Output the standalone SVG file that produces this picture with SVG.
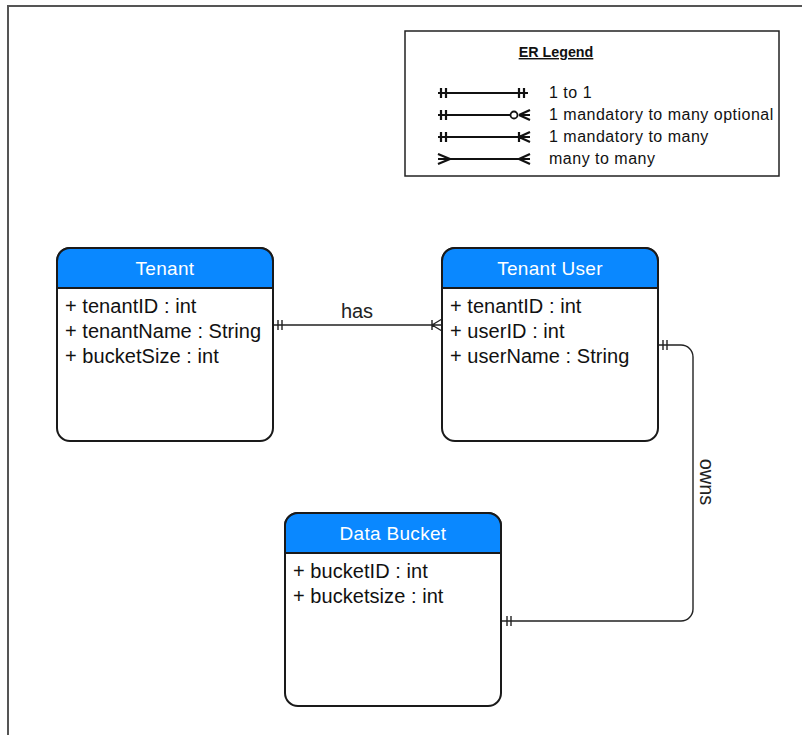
<svg xmlns="http://www.w3.org/2000/svg" width="802" height="735" viewBox="0 0 802 735">
<style>
.frame{fill:none;stroke:#555;stroke-width:2}
.box{fill:#fff;stroke:#1a1a1a;stroke-width:2}
.hdr{fill:#0a88ff;stroke:#1a1a1a;stroke-width:2}
.ht{font-family:"Liberation Sans",Arial,sans-serif;font-size:19px;fill:#fff;text-anchor:middle;letter-spacing:0.3px}
.at{font-family:"Liberation Sans",Arial,sans-serif;font-size:20px;fill:#111;letter-spacing:0.05px}
.conn{fill:none;stroke:#222;stroke-width:1.4}
.lbl{font-family:"Liberation Sans",Arial,sans-serif;font-size:20px;fill:#222}
.lg{fill:none;stroke:#111;stroke-width:2.2}
.lt{font-family:"Liberation Sans",Arial,sans-serif;font-size:16px;fill:#111;letter-spacing:0.5px}
</style>
<rect x="0" y="0" width="802" height="735" fill="#fff"/>
<path class="frame" d="M802,6 H8 V735"/>

<g id="legend">
<rect x="405" y="31" width="374" height="145" fill="#fff" stroke="#222" stroke-width="1.5"/>
<text x="556" y="57" font-family="Liberation Sans, Arial, sans-serif" font-size="14.3" font-weight="bold" text-anchor="middle" fill="#111" text-decoration="underline">ER Legend</text>
<g>
<path class="lg" d="M438,93 H528 M441,88 V98 M446,88 V98 M519,88 V98 M524,88 V98"/>
<text class="lt" x="549" y="98">1 to 1</text>
</g>
<g>
<path class="lg" d="M438,115 H510 M441,110 V120 M446,110 V120 M519,115 H530 M519,115 L530,110 M519,115 L530,120"/>
<circle cx="514" cy="115" r="3.5" fill="#fff" stroke="#111" stroke-width="1.8"/>
<text class="lt" x="549" y="120">1 mandatory to many optional</text>
</g>
<g>
<path class="lg" d="M438,137 H530 M441,132 V142 M446,132 V142 M519,132 V142 M519,137 L530,132 M519,137 L530,142"/>
<text class="lt" x="549" y="142">1 mandatory to many</text>
</g>
<g>
<path class="lg" d="M438,159 H530 M450,159 L438,154 M450,159 L438,164 M519,159 L530,154 M519,159 L530,164"/>
<text class="lt" x="549" y="164">many to many</text>
</g>
</g>

<g id="connectors">
<g id="has">
<path class="conn" d="M273,325 H442 M278,320 V330 M282,320 V330 M432,320 V330 M432,325 L442,319 M432,325 L442,331"/>
<text class="lbl" x="357" y="318" text-anchor="middle">has</text>
</g>
<g id="owns">
<path class="conn" d="M659,345 H681 A12,12 0 0 1 693,357 V609 A12,12 0 0 1 681,621 H502 M663,340 V350 M667,340 V350 M507,616 V626 M511,616 V626"/>
<text class="lbl" transform="translate(700,482) rotate(90)" text-anchor="middle">owns</text>
</g>
</g>

<g id="tenant">
<rect class="box" x="57" y="248" width="216" height="193" rx="13" ry="13"/>
<path class="hdr" d="M57,288 V261 A13,13 0 0 1 70,248 H260 A13,13 0 0 1 273,261 V288 Z"/>
<text class="ht" x="165" y="275">Tenant</text>
<text class="at" x="65" y="313">+ tenantID : int</text>
<text class="at" x="65" y="338">+ tenantName : String</text>
<text class="at" x="65" y="363">+ bucketSize : int</text>
</g>

<g id="tenant-user">
<rect class="box" x="442" y="248" width="216" height="193" rx="13" ry="13"/>
<path class="hdr" d="M442,288 V261 A13,13 0 0 1 455,248 H645 A13,13 0 0 1 658,261 V288 Z"/>
<text class="ht" x="550" y="275">Tenant User</text>
<text class="at" x="450" y="313">+ tenantID : int</text>
<text class="at" x="450" y="338">+ userID : int</text>
<text class="at" x="450" y="363">+ userName : String</text>
</g>

<g id="data-bucket">
<rect class="box" x="285" y="513" width="216" height="193" rx="13" ry="13"/>
<path class="hdr" d="M285,553 V526 A13,13 0 0 1 298,513 H488 A13,13 0 0 1 501,526 V553 Z"/>
<text class="ht" x="393" y="540">Data Bucket</text>
<text class="at" x="293" y="578">+ bucketID : int</text>
<text class="at" x="293" y="603">+ bucketsize : int</text>
</g>
</svg>
